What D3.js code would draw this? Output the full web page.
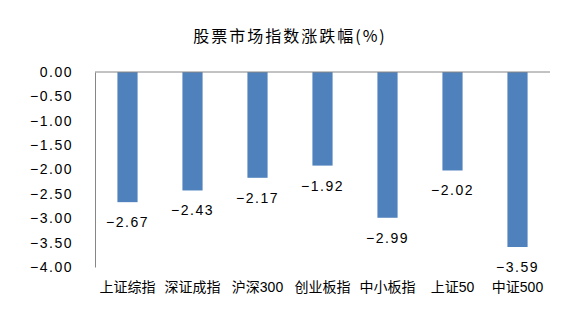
<!DOCTYPE html>
<html>
<head>
<meta charset="utf-8">
<script src="https://cdn.jsdelivr.net/npm/d3@7"></script>
<style>
  body { margin: 0; background: #fff; }
  svg { display: block; }
  text { font-family: "Liberation Sans", "Noto Sans CJK SC", sans-serif; fill: #000; }
</style>
</head>
<body>
<svg id="chart" width="575" height="331"></svg>
<script>
const title = "股票市场指数涨跌幅(%)";
const categories = ["上证综指", "深证成指", "沪深300", "创业板指", "中小板指", "上证50", "中证500"];
const changes = [-2.67, -2.43, -2.17, -1.92, -2.99, -2.02, -3.59];
const yTicks = [0, -0.5, -1, -1.5, -2, -2.5, -3, -3.5, -4];

const svg = d3.select("#chart");
const margin = { left: 95, right: 25, top: 72, bottom: 64 };
const W = 575, H = 331;

const x = d3.scaleBand().domain(categories)
  .range([margin.left, W - margin.right]).paddingInner(0.69).paddingOuter(0.345);
const y = d3.scaleLinear().domain([0, -4]).range([margin.top, H - margin.bottom]);

const fmt = v => d3.format(".2f")(v).replace("-", "−");

// title
svg.append("text")
  .attr("x", 290).attr("y", 42)
  .attr("text-anchor", "middle")
  .style("font-family", "'Noto Sans CJK SC', sans-serif")
  .style("font-size", "16px")
  .style("letter-spacing", "2px")
  .text(title);

// y axis labels
const yAxis = d3.axisLeft(y).tickValues(yTicks).tickSize(0).tickPadding(22).tickFormat(fmt);
const gy = svg.append("g").attr("transform", `translate(${margin.left},0)`).call(yAxis);
gy.select(".domain").attr("stroke", "#868686");
gy.selectAll("text").style("font-size", "14px").style("letter-spacing", "1.5px").attr("fill", "#000");

// bars
svg.append("g").selectAll("rect")
  .data(categories)
  .join("rect")
  .attr("x", d => x(d))
  .attr("width", x.bandwidth())
  .attr("y", y(0))
  .attr("height", (d, i) => y(changes[i]) - y(0))
  .attr("fill", "#4F81BD");

// zero line along the top
svg.append("line")
  .attr("x1", margin.left).attr("x2", W - margin.right)
  .attr("y1", y(0)).attr("y2", y(0))
  .attr("stroke", "#868686");

// value labels below bar ends
svg.append("g").selectAll("text")
  .data(categories)
  .join("text")
  .attr("x", d => x(d) + x.bandwidth() / 2)
  .attr("y", (d, i) => y(changes[i]) + 20)
  .attr("dy", "0.35em")
  .attr("text-anchor", "middle")
  .style("font-size", "14px")
  .style("letter-spacing", "1.5px")
  .text((d, i) => fmt(changes[i]));

// category labels
svg.append("g").selectAll("text")
  .data(categories)
  .join("text")
  .attr("x", d => x(d) + x.bandwidth() / 2)
  .attr("y", 287)
  .attr("dy", "0.35em")
  .attr("text-anchor", "middle")
  .style("font-size", "14px")
  .text(d => d);
</script>
</body>
</html>
